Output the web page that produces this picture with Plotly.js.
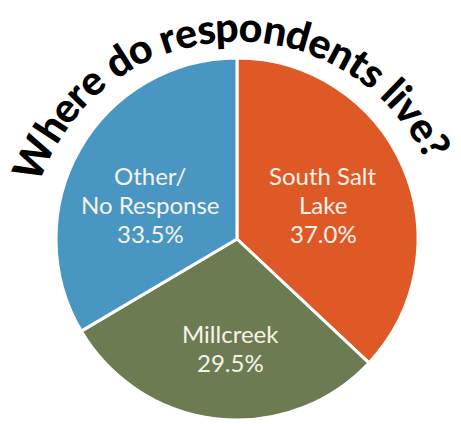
<!DOCTYPE html>
<html><head><meta charset="utf-8">
<script src="https://cdn.plot.ly/plotly-3.0.1.min.js"></script>
<style>html,body{margin:0;padding:0;background:#fff}#chart{width:461px;height:424px}</style>
</head><body><div id="chart"></div>
<script>
// ---- data ----
const categories = ['South Salt Lake', 'Millcreek', 'Other/No Response'];
const labelLines = [['South Salt', 'Lake'], ['Millcreek'], ['Other/', 'No Response']];
const shares = [37.0, 29.5, 33.5];
const colors = ['#DF5926', '#6D7B52', '#4A96C2'];
const titleText = 'Where do respondents live?';

// ---- layout helpers ----
const W = 461, H = 424;
const px = x => x / W, py = y => 1 - y / H;

const cx = 237, cy = 239, r = 181;
const trace = {
  type: 'pie', labels: categories, values: shares, sort: false,
  direction: 'clockwise', rotation: 0, textinfo: 'none',
  hoverinfo: 'label+percent', showlegend: false,
  marker: {colors: colors, line: {color: '#ffffff', width: 3}},
  domain: {x: [px(cx - r), px(cx + r)], y: [py(cy + r), py(cy - r)]}
};

const annotations = [];
// slice labels: one annotation per line, spaced evenly
const labelPos = [[323, 233], [230, 362], [150, 233]]; // x centre, y of last line
const lineGap = 29;
categories.forEach((c, i) => {
  const lines = labelLines[i].concat([shares[i].toFixed(1) + '%']);
  lines.forEach((ln, j) => {
    annotations.push({
      xref: 'paper', yref: 'paper', x: px(labelPos[i][0]),
      y: py(labelPos[i][1] - (lines.length - 1 - j) * lineGap),
      xanchor: 'center', yanchor: 'middle', showarrow: false, text: ln,
      font: {family: 'Lato', size: 24, color: '#F6F2EA'}
    });
  });
});

// curved title: one annotation per character placed along an arc
const fs = 41, fam = 'Lato', wt = 900;
const ctx = document.createElement('canvas').getContext('2d');
ctx.font = wt + ' ' + fs + 'px ' + fam;
const chars = Array.from(titleText);
const adv = chars.map(ch => ctx.measureText(ch).width);
const centers = []; let acc = 0;
adv.forEach(w => { centers.push(acc + w / 2); acc += w; });
const a0 = -65.6, a1 = 62.3, tcx = 237, tcy = 250, tr = 224;
const c0 = centers[0], c1 = centers[centers.length - 1];
chars.forEach((ch, i) => {
  if (ch === ' ') return;
  const t = a0 + (centers[i] - c0) / (c1 - c0) * (a1 - a0);
  const rad = t * Math.PI / 180;
  annotations.push({
    xref: 'paper', yref: 'paper',
    x: px(tcx + tr * Math.sin(rad)), y: py(tcy - tr * Math.cos(rad)),
    xanchor: 'center', yanchor: 'middle', showarrow: false,
    text: ch, textangle: t, borderpad: 0,
    font: {family: fam, size: fs, color: '#000000', weight: wt}
  });
});

const layout = {
  width: W, height: H, margin: {l: 0, r: 0, t: 0, b: 0},
  paper_bgcolor: '#ffffff', plot_bgcolor: '#ffffff',
  showlegend: false, annotations: annotations
};
Plotly.newPlot('chart', [trace], layout, {displayModeBar: false, staticPlot: true});
</script>
</body></html>
